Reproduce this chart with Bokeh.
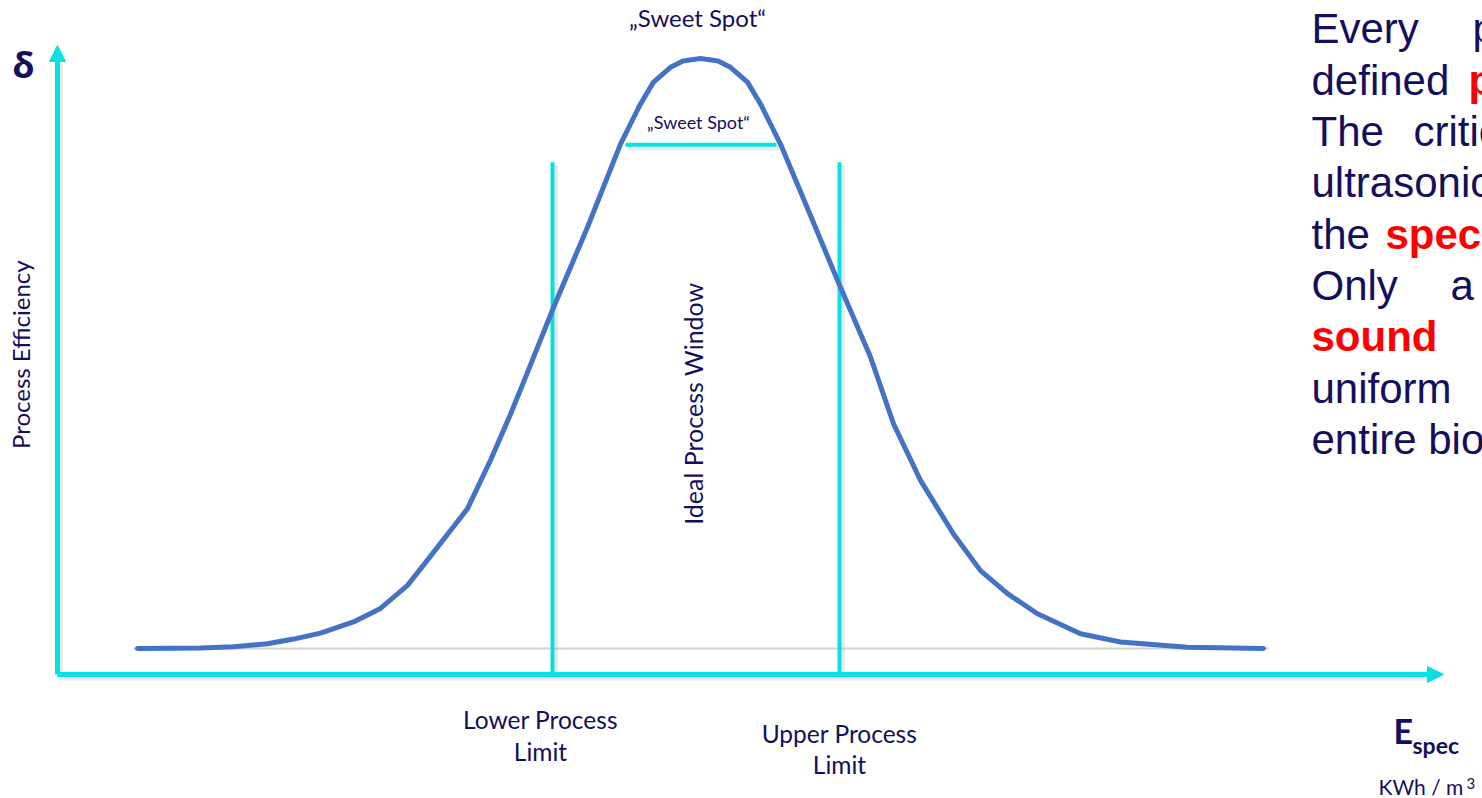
from math import pi
from bokeh.plotting import figure
from bokeh.models import Range1d, Arrow, NormalHead, ColumnDataSource
from bokeh.core.properties import value
from bokeh.embed import file_html
from bokeh.resources import INLINE

# ---------------- data ----------------
# specific energy input (arbitrary units) and process efficiency (% of peak)
e_spec = [8.0, 14.3, 17.6, 21.0, 23.6, 26.3, 29.6, 32.3, 35.0, 37.6, 39.3, 41.0,
          43.3, 45.3, 47.0, 49.6, 53.0, 56.3, 57.3, 58.3, 59.6, 61.3, 62.6, 64.3,
          66.0, 67.3, 69.0, 70.3, 71.3, 72.3, 75.3, 78.0, 81.3, 83.6, 86.3, 89.6,
          92.3, 95.0, 98.0, 102.3, 106.3, 113.0, 120.6]
efficiency = [0.0, 0.1, 0.3, 0.8, 1.6, 2.6, 4.5, 6.8, 10.7, 16.3, 20.0, 23.7,
              31.9, 39.7, 46.8, 57.8, 71.4, 85.5, 88.9, 92.3, 96.0, 98.5, 99.6, 100.0,
              99.6, 98.5, 96.0, 92.3, 88.9, 85.5, 73.4, 62.4, 49.4, 38.1, 28.5, 19.4,
              13.2, 9.3, 5.9, 2.5, 1.1, 0.2, 0.0]
lower_limit = 49.5
upper_limit = 78.2
limit_top = 82.4
sweet_spot = [56.8, 71.9]
sweet_level = 85.4
x_axis_end = 138.6
y_axis_end = 102.2
axis_level = -4.4
baseline_span = [7.6, 121.1]

NAVY = "#140f5c"
CYAN = "#06e2e2"
BLUE = "#4472c4"
RED = "#ff0000"

p = figure(width=1482, height=798, output_backend="svg", toolbar_location=None,
           x_range=Range1d(-5.7, 142.5), y_range=Range1d(-25.42, 109.83),
           x_axis_location=None, y_axis_location=None, min_border=0)
p.grid.visible = False
p.outline_line_color = None
p.background_fill_color = "white"
p.border_fill_color = "white"

# baseline (light gray)
p.line(baseline_span, [0, 0], line_color="#d4d4d4", line_width=2)

# soft shadows of the cyan lines
sh = dict(line_color="#9a9a9a", line_alpha=0.22, line_width=6)
p.line([0.25, 0.25], [axis_level - 0.5, y_axis_end - 3], **sh)
p.line([0.25, x_axis_end - 1.5], [axis_level - 0.5, axis_level - 0.5], **sh)
p.line([lower_limit + 0.25] * 2, [axis_level - 0.5, limit_top - 0.5], **sh)
p.line([upper_limit + 0.25] * 2, [axis_level - 0.5, limit_top - 0.5], **sh)
p.line([sweet_spot[0] + 0.25, sweet_spot[1] + 0.25], [sweet_level - 0.5] * 2, **sh)

# process limits and sweet spot
p.segment(x0=[lower_limit, upper_limit], y0=[axis_level, axis_level],
          x1=[lower_limit, upper_limit], y1=[limit_top, limit_top],
          line_color=CYAN, line_width=4)
p.line(sweet_spot, [sweet_level, sweet_level], line_color=CYAN, line_width=4)

# efficiency curve
p.line(e_spec, efficiency, line_color=BLUE, line_width=5, line_join="round", line_cap="round")

# axes arrows
p.add_layout(Arrow(end=NormalHead(size=16, fill_color=CYAN, line_color=CYAN),
                   x_start=0, y_start=axis_level, x_end=0, y_end=y_axis_end,
                   line_color=CYAN, line_width=5))
p.add_layout(Arrow(end=NormalHead(size=16, fill_color=CYAN, line_color=CYAN),
                   x_start=0, y_start=axis_level, x_end=x_axis_end, y_end=axis_level,
                   line_color=CYAN, line_width=5))

LAB = value("Lato")

def label(x, y, txt, size, align="center", baseline="alphabetic", angle=0,
          color=NAVY, font=LAB, style="normal"):
    p.text(x=[x], y=[y], text=[txt], text_font=font, text_font_size=value(size),
           text_align=align, text_baseline=baseline, angle=angle,
           text_color=color, text_font_style=style)

label(-3.4, 99.0, "δ", "36px", font=value("Open Sans"), style="bold")
label(-3.7, 49.8, "Process Efficiency", "24px", baseline="middle", angle=pi / 2)
label(64.0, 107.0, "„Sweet Spot“", "24px")
label(64.1, 89.2, "„Sweet Spot“", "18px")
label(63.5, 41.5, "Ideal Process Window", "25px", baseline="middle", angle=pi / 2)
label(48.3, -12.1, "Lower Process", "24.5px")
label(48.3, -17.52, "Limit", "24.5px")
label(78.2, -14.47, "Upper Process", "24.5px")
label(78.2, -19.73, "Limit", "24.5px")
label(133.6, -13.9, "E", "34px", align="left", style="bold")
label(135.5, -16.43, "spec", "23px", align="left", style="bold")
label(132.1, -23.35, "KWh / m", "21px", align="left")
label(140.9, -22.8, "3", "15px", align="left")

# right-hand text block (visible part, cut by the page edge as in the reference)
words = ["Every", "p", "defined", "p", "The", "critic", "ultrasonic", "the", "spec",
         "Only", "a", "sound", "uniform", "entire bio"]
word_line = [0, 0, 1, 1, 2, 2, 3, 4, 4, 5, 5, 6, 7, 8]
word_x = [125.4, 141.5, 125.4, 141.1, 125.4, 135.6, 125.4, 125.4, 132.8,
          125.4, 139.3, 125.4, 125.4, 125.4]
word_red = [False, False, False, True, False, False, False, False, True,
            False, False, True, False, False]
src = ColumnDataSource(dict(
    x=word_x, y=[105.0 - 8.695 * i for i in word_line], text=words,
    color=[RED if r else NAVY for r in word_red],
    style=["bold" if r else "normal" for r in word_red]))
p.text(x="x", y="y", text="text", source=src, text_color="color", text_font_style="style",
       text_font=value("Liberation Sans"), text_font_size=value("42px"),
       text_align="left", text_baseline="alphabetic")

open("out.html", "w").write(file_html(p, INLINE))
